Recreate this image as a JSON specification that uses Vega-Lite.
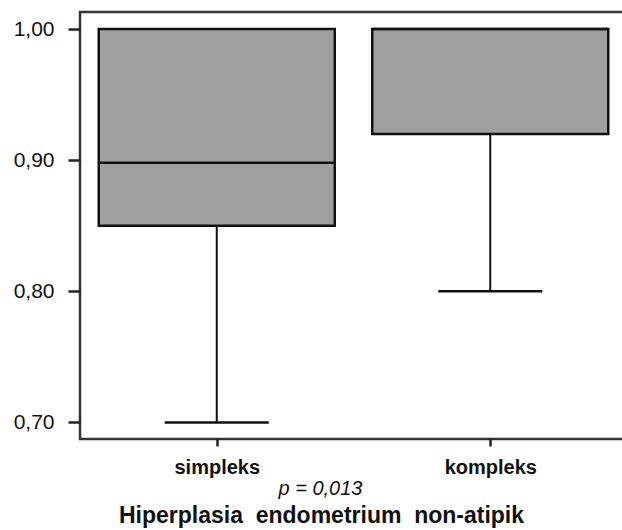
{
  "$schema": "https://vega.github.io/schema/vega-lite/v6.json",
  "width": 547,
  "height": 427,
  "padding": {"left": 10, "top": 12, "right": 0, "bottom": 0},
  "background": "white",
  "data": {
    "values": [
      {"group": "simpleks", "min": 0.70, "q1": 0.85, "median": 0.898, "q3": 1.00, "max": 1.00},
      {"group": "kompleks", "min": 0.80, "q1": 0.92, "median": 1.00, "q3": 1.00, "max": 1.00}
    ]
  },
  "title": {
    "text": "Hiperplasia\u00a0 endometrium\u00a0 non-atipik",
    "orient": "bottom",
    "anchor": "middle",
    "dx": -32,
    "offset": 7,
    "font": "Liberation Sans",
    "fontSize": 23,
    "fontWeight": "bold",
    "color": "#111"
  },
  "encoding": {
    "x": {
      "field": "group",
      "type": "nominal",
      "sort": ["simpleks", "kompleks"],
      "scale": {"type": "point", "padding": 0.5},
      "axis": {
        "title": "p = 0,013",
        "titleFont": "Liberation Sans",
        "titleFontStyle": "italic",
        "titleFontWeight": "normal",
        "titleFontSize": 20,
        "titleColor": "#111",
        "titleX": 240,
        "titlePadding": 1,
        "labelFont": "Liberation Sans",
        "labelFontWeight": "bold",
        "labelFontSize": 20,
        "labelColor": "#111",
        "labelAngle": 0,
        "labelPadding": 11,
        "tickSize": 7,
        "tickWidth": 2.5,
        "tickColor": "#222",
        "domain": false,
        "grid": false
      }
    }
  },
  "layer": [
    {
      "mark": {"type": "rule", "color": "#111", "strokeWidth": 2},
      "encoding": {
        "y": {
          "field": "min",
          "type": "quantitative",
          "scale": {"domain": [0.6874, 1.013], "nice": false, "zero": false},
          "axis": {
            "title": null,
            "values": [0.7, 0.8, 0.9, 1.0],
            "labelExpr": "replace(format(datum.value, '.2f'), '.', ',')",
            "labelFont": "Liberation Sans",
            "labelFontSize": 21,
            "labelColor": "#111",
            "labelPadding": 14,
            "tickSize": 12,
            "tickWidth": 2.5,
            "tickColor": "#222",
            "domain": false,
            "grid": false,
            "minExtent": 70,
            "maxExtent": 70
          }
        },
        "y2": {"field": "q1"}
      }
    },
    {
      "mark": {"type": "bar", "size": 236, "fill": "#a0a0a0", "stroke": "#111", "strokeWidth": 2.5},
      "encoding": {
        "y": {"field": "q1", "type": "quantitative"},
        "y2": {"field": "q3"}
      }
    },
    {
      "mark": {"type": "tick", "size": 104, "thickness": 2.5, "color": "#111", "opacity": 1},
      "encoding": {
        "y": {"field": "min", "type": "quantitative"}
      }
    },
    {
      "mark": {"type": "tick", "size": 236, "thickness": 2.5, "color": "#111", "opacity": 1},
      "encoding": {
        "y": {"field": "median", "type": "quantitative"}
      }
    }
  ],
  "config": {
    "view": {"stroke": "#333", "strokeWidth": 2.5}
  }
}
